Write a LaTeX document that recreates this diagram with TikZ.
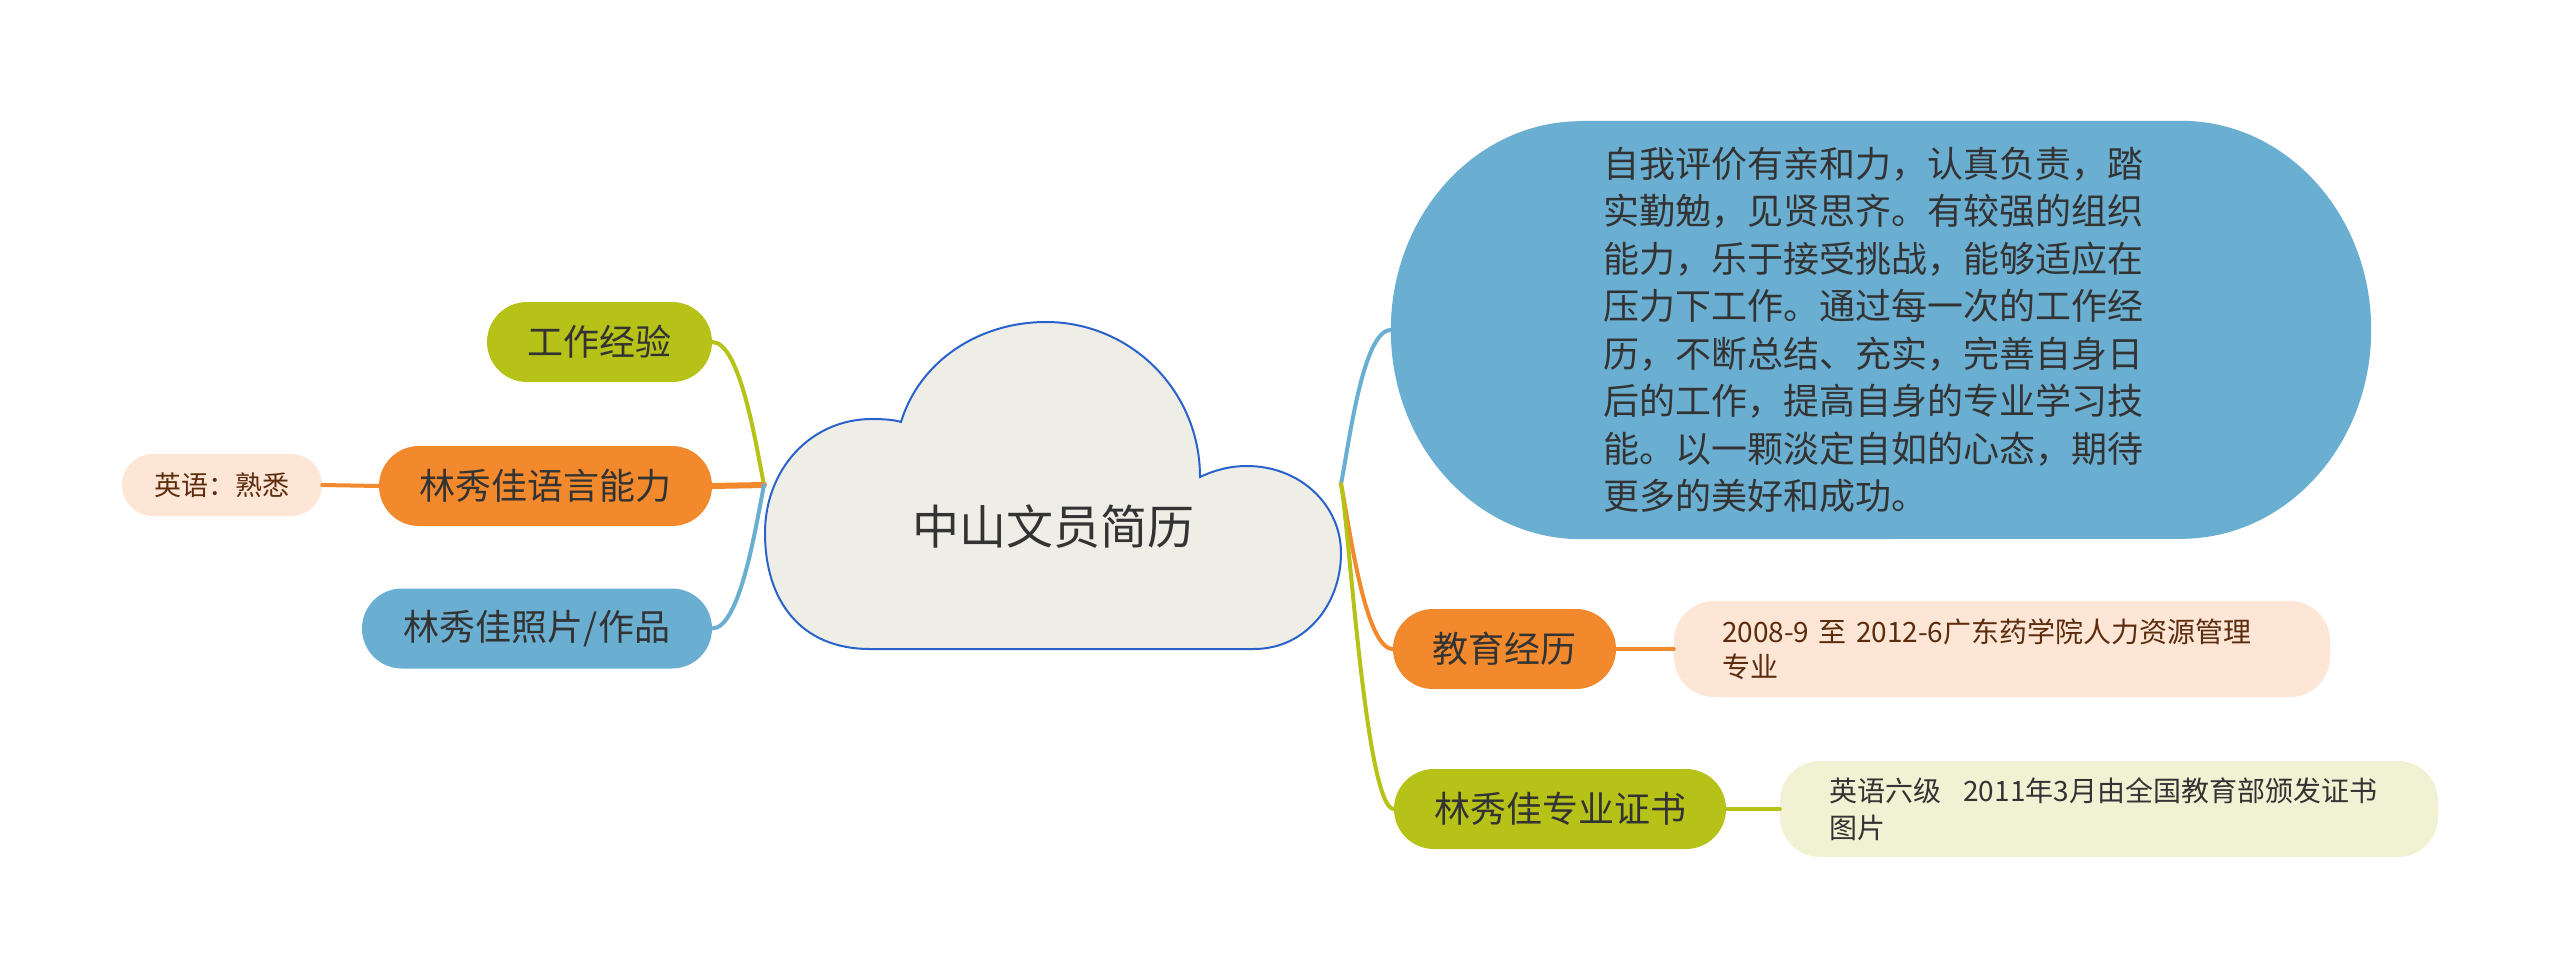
\documentclass[tikz,border=0pt]{standalone}
\usepackage{fontspec}
\setmainfont{Noto Sans CJK SC}
\usetikzlibrary{calc}
\definecolor{cgreen}{HTML}{B6C218}
\definecolor{corange}{HTML}{F28A2D}
\definecolor{cblue}{HTML}{6AAFD2}
\definecolor{cpeach}{HTML}{FDE6D6}
\definecolor{clight}{HTML}{F1F2D4}
\definecolor{cloudfill}{HTML}{EFEEE6}
\definecolor{cloudline}{HTML}{2A62CC}
\definecolor{ctext}{HTML}{333333}
\definecolor{cbrown}{HTML}{5C2C0C}
\begin{document}
\begin{tikzpicture}[x=1pt,y=-1pt,
  topic/.style={rounded corners=40pt, minimum height=80pt, inner sep=0pt, text=ctext, font=\fontsize{36}{44}\selectfont},
  subbox/.style={rounded corners=40pt, inner sep=0pt, align=left, text width=560pt, minimum height=96pt, font=\fontsize{28}{35}\selectfont},
  conn/.style={line width=4pt, line cap=round},
]
\useasboundingbox (0,0) rectangle (2560,980);
\fill[white] (0,0) rectangle (2560,980);

% cloud
\path[fill=cloudfill, draw=cloudline, line width=2pt]
  (870,649) .. controls (800,649) and (765,600) .. (765,533)
  .. controls (765,470) and (810,419) .. (872,419)
  .. controls (885,419) and (895,420) .. (901,422)
  .. controls (920,360) and (980,322) .. (1046,322)
  .. controls (1130,322) and (1200,390) .. (1200,477)
  .. controls (1215,470) and (1230,466) .. (1247,466)
  .. controls (1300,466) and (1341,505) .. (1341,553)
  .. controls (1341,605) and (1305,649) .. (1254,649)
  -- cycle;
\node[text=ctext, font=\fontsize{47}{56}\selectfont] (C) at (1053,527) {中山文员简历};
\coordinate (JL) at (764,485);
\coordinate (JR) at (1341,484);

% left topics
\node[topic, fill=cgreen, minimum width=225pt] (W) at (599.5,342) {工作经验};
\node[topic, fill=corange, minimum width=333pt] (L) at (545.5,486) {林秀佳语言能力};
\node[topic, fill=cblue, minimum width=350pt] (P) at (537,628.5) {林秀佳照片/作品};
\node[rounded corners=31pt, inner sep=0pt, fill=cpeach, minimum width=200pt, minimum height=62pt, text=cbrown, font=\fontsize{27}{33}\selectfont] (E) at (222,485) {英语：熟悉};

% right topics
\node[minimum width=980pt, minimum height=418pt, inner sep=0pt] (B) at (1881,330) {};
\fill[cblue] ([xshift=190pt]B.north west) -- ([xshift=-190pt]B.north east)
  arc[start angle=90, end angle=-90, x radius=190pt, y radius=209pt]
  -- ([xshift=190pt]B.south west)
  arc[start angle=270, end angle=90, x radius=190pt, y radius=209pt] -- cycle;
\node[text width=556pt, align=left, inner sep=0pt, text=ctext, font=\fontsize{36}{47.5}\selectfont] (BT) at (B.center) {自我评价有亲和力，认真负责，踏\\实勤勉，见贤思齐。有较强的组织\\能力，乐于接受挑战，能够适应在\\压力下工作。通过每一次的工作经\\历，不断总结、充实，完善自身日\\后的工作，提高自身的专业学习技\\能。以一颗淡定自如的心态，期待\\更多的美好和成功。};

\node[topic, fill=corange, minimum width=223pt] (Ed) at (1504.5,649) {教育经历};
\node[subbox, fill=cpeach, minimum width=656pt, text=cbrown] (Ep) at (2002,649) {2008-9 至 2012-6广东药学院人力资源管理\\专业};
\node[topic, fill=cgreen, minimum width=332pt] (Z) at (1560,809) {林秀佳专业证书};
\node[subbox, fill=clight, minimum width=658pt, text=ctext, font=\fontsize{28}{37}\selectfont] (Zl) at (2109,809) {英语六级\hspace*{0.8em}2011年3月由全国教育部颁发证书\\图片};

% connectors
\draw[conn, cgreen] (JL) .. controls +(-8,-40) and +(28,0) .. (W.east);
\draw[conn, corange, line width=6pt] (JL) -- (L.east);
\draw[conn, cblue] (JL) .. controls +(-8,40) and +(28,0) .. (P.east);
\draw[conn, corange] (L.west) -- (E.east);

\draw[conn, cblue] (JR) .. controls +(8,-40) and +(-28,0) .. (B.west);
\draw[conn, corange] (JR) .. controls +(8,40) and +(-28,0) .. (Ed.west);
\draw[conn, cgreen] (JR) .. controls +(8,40) and +(-28,0) .. (Z.west);
\draw[conn, corange] (Ed.east) -- (Ep.west);
\draw[conn, cgreen] (Z.east) -- (Zl.west);
\end{tikzpicture}
\end{document}
